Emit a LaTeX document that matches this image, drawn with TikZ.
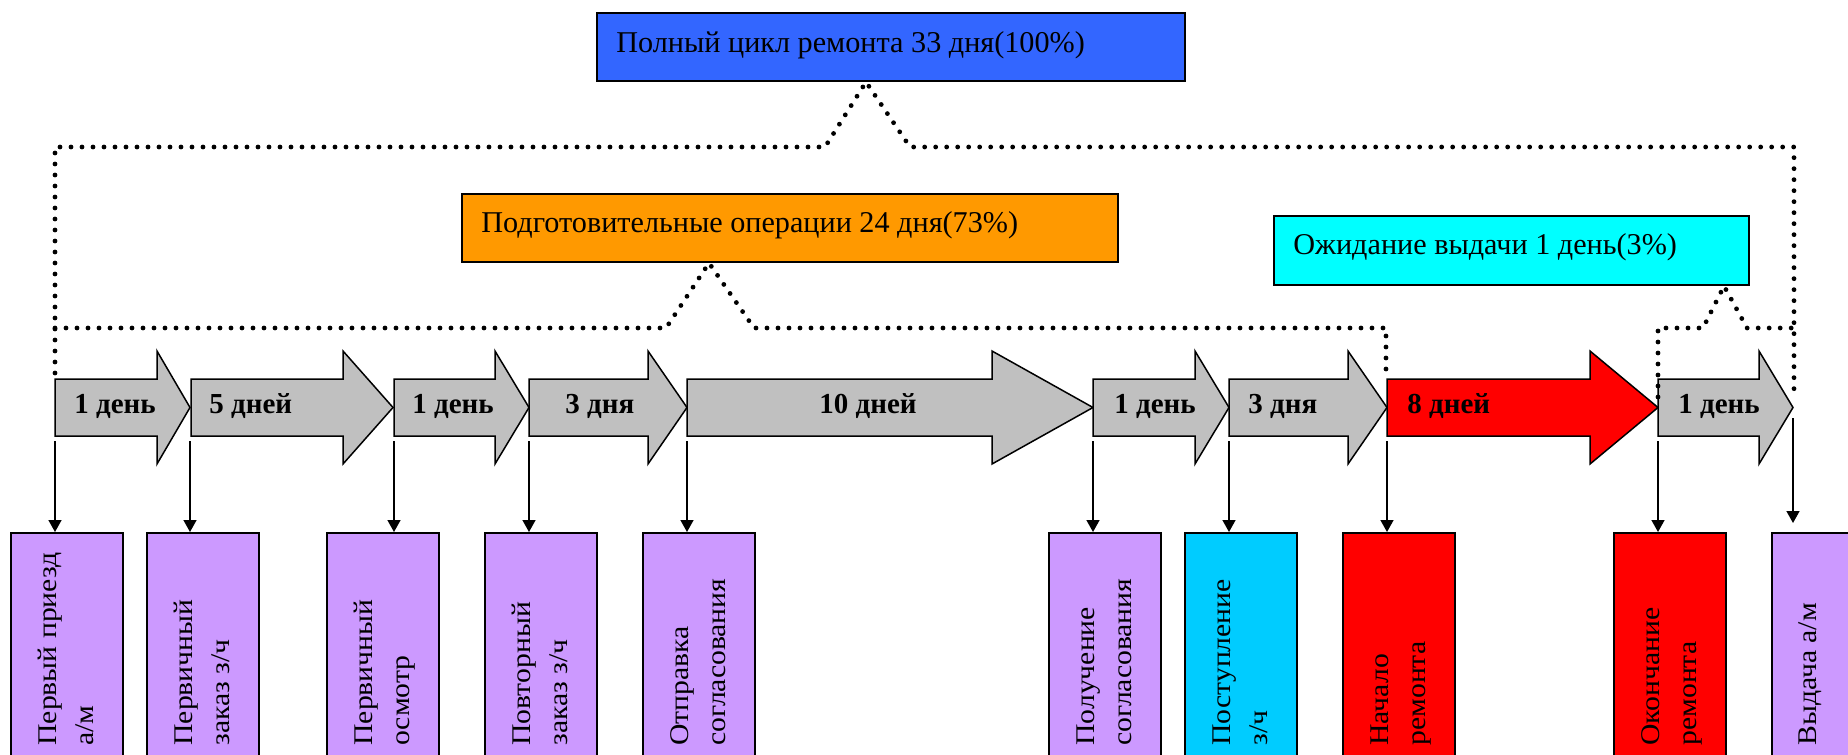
\documentclass[tikz,border=0pt]{standalone}
\usepackage{fontspec}
\setmainfont{Liberation Serif}
\newfontfamily\rotfont[FakeStretch=1.1]{Liberation Serif}
\usetikzlibrary{arrows.meta}
\definecolor{fullblue}{HTML}{3366FF}
\definecolor{prepor}{HTML}{FF9900}
\definecolor{waitcyan}{HTML}{00FFFF}
\definecolor{arrgray}{HTML}{C0C0C0}
\definecolor{lilac}{HTML}{CC99FF}
\definecolor{skyc}{HTML}{00CCFF}
\begin{document}
\begin{tikzpicture}[x=0.5pt,y=-0.5pt,
  boxst/.style={draw=black, line width=1pt, inner sep=0pt, anchor=north west},
  arrowshape/.style={draw=black, line width=0.75pt, line join=miter},
  dots/.style={line width=2.4pt, dash pattern=on 0pt off 5.5pt, line cap=round},
  toptext/.style={anchor=base west, inner sep=0pt, font=\fontsize{15.1}{18}\selectfont},
  daytext/.style={anchor=base west, inner sep=0pt, font=\fontsize{14.5}{17}\selectfont\bfseries},
  rottext/.style={anchor=base west, inner sep=0pt, rotate=90, font=\rotfont\fontsize{13.5}{16}\selectfont},
  downarrow/.style={-{Triangle[length=6pt,width=6.5pt]}, line width=0.75pt},
  lowbox/.style={boxst, minimum width=56pt, minimum height=150pt}
  ]
\path[use as bounding box] (0,0) rectangle (1848,755);
\clip (0,0) rectangle (1848,755);

% top label boxes
\node[boxst, fill=fullblue, minimum width=294pt, minimum height=34pt] (full) at (596,12) {};
\node[toptext] (fullt) at (616,52) {Полный цикл ремонта 33 дня(100\%)};
\node[boxst, fill=prepor, minimum width=328pt, minimum height=34pt] (prep) at (461,193) {};
\node[toptext] (prept) at (481,232) {Подготовительные операции 24 дня(73\%)};
\node[boxst, fill=waitcyan, minimum width=237.5pt, minimum height=34.5pt] (wait) at (1273,215) {};
\node[toptext] (waitt) at (1293,254) {Ожидание выдачи 1 день(3\%)};

% timeline arrows
\draw[arrowshape,fill=arrgray] (55,379) -- (157,379) -- (157,351) -- (190,407.5) -- (157,464) -- (157,436) -- (55,436) -- cycle;
\draw[arrowshape,fill=arrgray] (191,379) -- (343,379) -- (343,351) -- (393,407.5) -- (343,464) -- (343,436) -- (191,436) -- cycle;
\draw[arrowshape,fill=arrgray] (394,379) -- (495,379) -- (495,351) -- (529,407.5) -- (495,464) -- (495,436) -- (394,436) -- cycle;
\draw[arrowshape,fill=arrgray] (529,379) -- (648,379) -- (648,351) -- (687,407.5) -- (648,464) -- (648,436) -- (529,436) -- cycle;
\draw[arrowshape,fill=arrgray] (687,379) -- (992,379) -- (992,351) -- (1093,407.5) -- (992,464) -- (992,436) -- (687,436) -- cycle;
\draw[arrowshape,fill=arrgray] (1093,379) -- (1195,379) -- (1195,351) -- (1229,407.5) -- (1195,464) -- (1195,436) -- (1093,436) -- cycle;
\draw[arrowshape,fill=arrgray] (1229,379) -- (1348,379) -- (1348,351) -- (1387,407.5) -- (1348,464) -- (1348,436) -- (1229,436) -- cycle;
\draw[arrowshape,fill=red] (1387,379) -- (1590,379) -- (1590,351) -- (1658,407.5) -- (1590,464) -- (1590,436) -- (1387,436) -- cycle;
\draw[arrowshape,fill=arrgray] (1658,379) -- (1759,379) -- (1759,351) -- (1793,407.5) -- (1759,464) -- (1759,436) -- (1658,436) -- cycle;

\node[daytext] (a1) at (74,413) {1 день};
\node[daytext] (a2) at (209,413) {5 дней};
\node[daytext] (a3) at (412,413) {1 день};
\node[daytext] (a4) at (565,413) {3 дня};
\node[daytext] (a5) at (819,413) {10 дней};
\node[daytext] (a6) at (1114,413) {1 день};
\node[daytext] (a7) at (1248,413) {3 дня};
\node[daytext] (a8) at (1407,413) {8 дней};
\node[daytext] (a9) at (1678,413) {1 день};

% event boxes
\node[lowbox, fill=lilac] (b1) at (10,532) {};
\node[lowbox, fill=lilac] (b2) at (146,532) {};
\node[lowbox, fill=lilac] (b3) at (326,532) {};
\node[lowbox, fill=lilac] (b4) at (484,532) {};
\node[lowbox, fill=lilac] (b5) at (642,532) {};
\node[lowbox, fill=lilac] (b6) at (1048,532) {};
\node[lowbox, fill=skyc] (b7) at (1184,532) {};
\node[lowbox, fill=red] (b8) at (1342,532) {};
\node[lowbox, fill=red] (b9) at (1613,532) {};
\node[lowbox, fill=lilac] (b10) at (1771,532) {};

\node[rottext] (t1a) at (56,746) {Первый приезд};
\node[rottext] (t1b) at (93,746) {а/м};
\node[rottext] (t2a) at (192,746) {Первичный};
\node[rottext] (t2b) at (229,746) {заказ з/ч};
\node[rottext] (t3a) at (372,746) {Первичный};
\node[rottext] (t3b) at (409,746) {осмотр};
\node[rottext] (t4a) at (530,746) {Повторный};
\node[rottext] (t4b) at (567,746) {заказ з/ч};
\node[rottext] (t5a) at (688,746) {Отправка};
\node[rottext] (t5b) at (725,746) {согласования};
\node[rottext] (t6a) at (1094,746) {Получение};
\node[rottext] (t6b) at (1131,746) {согласования};
\node[rottext] (t7a) at (1230,746) {Поступление};
\node[rottext] (t7b) at (1267,746) {з/ч};
\node[rottext] (t8a) at (1388,746) {Начало};
\node[rottext] (t8b) at (1425,746) {ремонта};
\node[rottext] (t9a) at (1659,746) {Окончание};
\node[rottext] (t9b) at (1696,746) {ремонта};
\node[rottext] (t10a) at (1816,746) {Выдача а/м};

% down connectors
\coordinate (s1) at (55,441);
\coordinate (s2) at (190,441);
\coordinate (s3) at (394,441);
\coordinate (s4) at (529,441);
\coordinate (s5) at (687,441);
\coordinate (s6) at (1093,441);
\coordinate (s7) at (1229,441);
\coordinate (s8) at (1387,441);
\coordinate (s9) at (1658,441);
\coordinate (s10) at (1793,418);
\draw[downarrow] (s1) -- (b1.north -| s1);
\draw[downarrow] (s2) -- (b2.north -| s2);
\draw[downarrow] (s3) -- (b3.north -| s3);
\draw[downarrow] (s4) -- (b4.north -| s4);
\draw[downarrow] (s5) -- (b5.north -| s5);
\draw[downarrow] (s6) -- (b6.north -| s6);
\draw[downarrow] (s7) -- (b7.north -| s7);
\draw[downarrow] (s8) -- (b8.north -| s8);
\draw[downarrow] (s9) -- (b9.north -| s9);
\draw[downarrow, shorten >=4.5pt] (s10) -- (b10.north -| s10);

% dotted brackets
\coordinate (fullapex) at (866,0);
\coordinate (prepapex) at (709,0);
\coordinate (waitapex) at (1724,0);
\draw[dots] (55,373) -- (55,147) -- (825,147) -- (full.south -| fullapex) -- (910,147) -- (1794,147) -- (1794,397);
\draw[dots] (55,328) -- (666,328) -- (prep.south -| prepapex) -- (754,328) -- (1386,328) -- (1386,373);
\draw[dots] (1658,397) -- (1658,328) -- (1703,328) -- (wait.south -| waitapex) -- (1747,328) -- (1794,328);
\end{tikzpicture}
\end{document}
